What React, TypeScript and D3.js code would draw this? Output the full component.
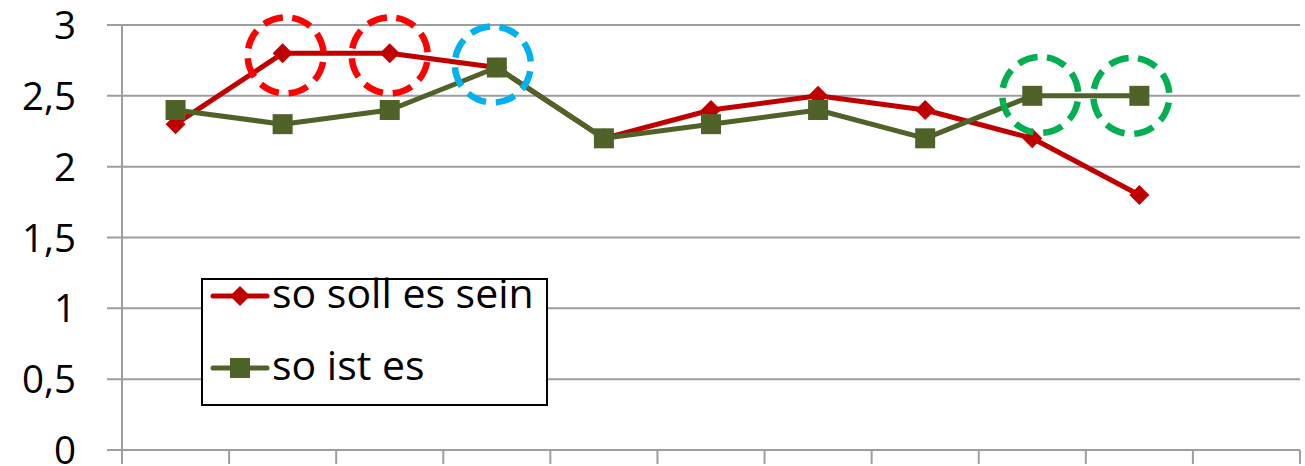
import React from "react";
import * as d3 from "d3";

const categories = ["1", "2", "3", "4", "5", "6", "7", "8", "9", "10", "11"];
const sollValues = [2.3, 2.8, 2.8, 2.7, 2.2, 2.4, 2.5, 2.4, 2.2, 1.8];
const istValues = [2.4, 2.3, 2.4, 2.7, 2.2, 2.3, 2.4, 2.2, 2.5, 2.5];
const yTicks = [0, 0.5, 1, 1.5, 2, 2.5, 3];
const seriesNames = ["so soll es sein", "so ist es"];
const highlights = [
  { series: 0, index: 1, color: "#FF0000", dx: 3, dy: 2 },
  { series: 0, index: 2, color: "#FF0000", dx: 0, dy: 2 },
  { series: 1, index: 3, color: "#00B0F0", dx: -4, dy: -3 },
  { series: 1, index: 8, color: "#00B050", dx: 8, dy: -1 },
  { series: 1, index: 9, color: "#00B050", dx: -8, dy: 0 },
];

const W = 1305;
const H = 466;
const left = 122;
const right = 1300;
const top = 25;
const bottom = 450;
const RED = "#C00000";
const GREEN = "#4F6228";
const FONT = "'Open Sans', 'Liberation Sans', sans-serif";

export default function App() {
  const x = d3.scaleBand<string>().domain(categories).range([left, right]);
  const y = d3.scaleLinear().domain([0, 3]).range([bottom, top]);
  const cx = (i: number) => (x(categories[i]) as number) + x.bandwidth() / 2;
  const line = d3
    .line<number>()
    .x((_, i) => cx(i))
    .y((v) => y(v));
  const seriesData = [sollValues, istValues];

  const diamond = (px: number, py: number, r: number) =>
    `M${px},${py - r}L${px + r},${py}L${px},${py + r}L${px - r},${py}Z`;

  const bandEdges = categories.map((c) => x(c) as number).concat([right]);

  return (
    <svg width={W} height={H} style={{ position: "absolute", left: 0, top: 0, background: "#fff" }}>
      {/* gridlines */}
      {yTicks.map((t) => (
        <line key={"g" + t} x1={107} x2={right} y1={y(t)} y2={y(t)} stroke="#9e9e9e" strokeWidth={2} />
      ))}
      {/* y axis */}
      <line x1={left} x2={left} y1={top} y2={bottom + 14} stroke="#9e9e9e" strokeWidth={2} />
      {/* x ticks */}
      {bandEdges.map((e, i) => (
        <line key={"t" + i} x1={e} x2={e} y1={bottom} y2={bottom + 14} stroke="#9e9e9e" strokeWidth={2} />
      ))}
      {/* y labels */}
      {yTicks.map((t) => (
        <text
          key={"l" + t}
          x={76}
          y={y(t) + 14}
          textAnchor="end"
          fontFamily={FONT}
          fontSize={38.5}
          fill="#000"
        >
          {String(t).replace(".", ",")}
        </text>
      ))}
      {/* lines */}
      <path d={line(sollValues) || ""} fill="none" stroke={RED} strokeWidth={5} strokeLinejoin="round" />
      <path d={line(istValues) || ""} fill="none" stroke={GREEN} strokeWidth={5} strokeLinejoin="round" />
      {/* markers */}
      {sollValues.map((v, i) => (
        <path key={"d" + i} d={diamond(cx(i), y(v), 10)} fill={RED} />
      ))}
      {istValues.map((v, i) => (
        <rect key={"s" + i} x={cx(i) - 10} y={y(v) - 10} width={20} height={20} fill={GREEN} />
      ))}
      {/* highlight circles */}
      {highlights.map((h, k) => {
        const ccx = cx(h.index) + h.dx;
        const ccy = y(seriesData[h.series][h.index]) + h.dy;
        return (
          <circle
            key={"c" + k}
            cx={ccx}
            cy={ccy}
            r={38}
            fill="none"
            stroke={h.color}
            strokeWidth={6.5}
            strokeDasharray="20 9.85"
            transform={`rotate(-80 ${ccx} ${ccy})`}
          />
        );
      })}
      {/* legend */}
      <rect x={202} y={279} width={345} height={126} fill="#fff" stroke="#000" strokeWidth={2} />
      {seriesNames.map((name, i) => {
        const ly = 296 + i * 72;
        return (
          <g key={"leg" + i}>
            <line x1={213} x2={267} y1={ly} y2={ly} stroke={i === 0 ? RED : GREEN} strokeWidth={5} strokeLinecap="round" />
            {i === 0 ? (
              <path d={diamond(240, ly, 10)} fill={RED} />
            ) : (
              <rect x={230} y={ly - 10} width={20} height={20} fill={GREEN} />
            )}
            <text x={272} y={ly + 12} fontFamily={FONT} fontSize={41} fill="#000">
              {name}
            </text>
          </g>
        );
      })}
    </svg>
  );
}
